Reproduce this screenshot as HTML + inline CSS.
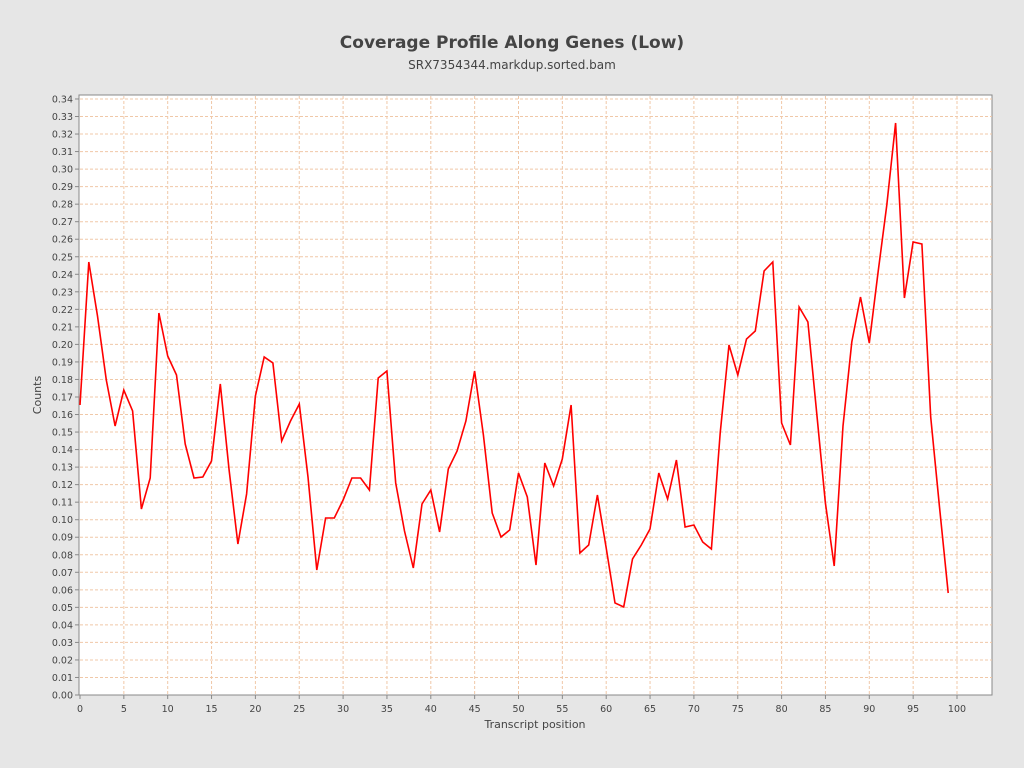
<!DOCTYPE html>
<html><head><meta charset="utf-8"><style>
html,body{margin:0;padding:0;width:1024px;height:768px;overflow:hidden;background:#e6e6e6;font-family:"Liberation Sans","DejaVu Sans",sans-serif;}
svg{display:block;}
</style></head><body>
<svg width="1024" height="768" xmlns="http://www.w3.org/2000/svg" font-family="DejaVu Sans, Liberation Sans, sans-serif">
<rect width="1024" height="768" fill="#e6e6e6"/>
<text x="512" y="48" text-anchor="middle" font-size="17" font-weight="bold" fill="#444">Coverage Profile Along Genes (Low)</text>
<text x="512" y="69" text-anchor="middle" font-size="12" fill="#444">SRX7354344.markdup.sorted.bam</text>
<rect x="79" y="95" width="913" height="600" fill="#fff" stroke="#888"/>
<g id="grid" stroke="#f0c8a8" stroke-dasharray="3,2" stroke-width="1"></g>
<g id="ticks" font-size="9.5" fill="#444"></g>
<polyline id="line" fill="none" stroke="#ff0000" stroke-width="1.6"/>
<text x="535" y="728" text-anchor="middle" font-size="11" fill="#444">Transcript position</text>
<text transform="translate(41,395) rotate(-90)" text-anchor="middle" font-size="11" fill="#444">Counts</text>
</svg>
<script>
var ns="http://www.w3.org/2000/svg",g=document.getElementById('grid'),t=document.getElementById('ticks');
function el(p,n,a){var e=document.createElementNS(ns,n);for(var k in a)e.setAttribute(k,a[k]);p.appendChild(e);return e;}
for(var i=0;i<=34;i++){var y=695-i*17.53;if(i>0)el(g,'line',{x1:80,x2:992,y1:y,y2:y});
el(t,'line',{x1:75,x2:79,y1:y,y2:y,stroke:'#888'});
var tx=el(t,'text',{x:73,y:y+3.5,'text-anchor':'end'});tx.textContent=(i/100).toFixed(2);}
for(var i=0;i<=100;i+=5){var x=80+i*8.77;if(i>0)el(g,'line',{x1:x,x2:x,y1:96,y2:695});
el(t,'line',{x1:x,x2:x,y1:695,y2:699,stroke:'#888'});
var tx=el(t,'text',{x:x,y:712,'text-anchor':'middle'});tx.textContent=i;}
var Y=[405,262,316,380,426,390,411,509,478,313,356,375,444,478,477,461,384,470,544,494,396,357,363,441,421,404,477,570,518,518,500,478,478,490,378,371,483,531,568,504,490,532,469,451,421,371,435,513,537,530,473,497,565,463,486,459,405,553,545,495,548,603,607,559,545,529,473,499,460,527,525,542,549,433,345,375,339,331,271,262,423,445,307,322,413,503,566,426,342,297,343,272,205,123,298,242,244,417,507,593];
document.getElementById('line').setAttribute('points',Y.map(function(v,i){return (80+i*8.77).toFixed(1)+','+v}).join(' '));
</script>
</body></html>
